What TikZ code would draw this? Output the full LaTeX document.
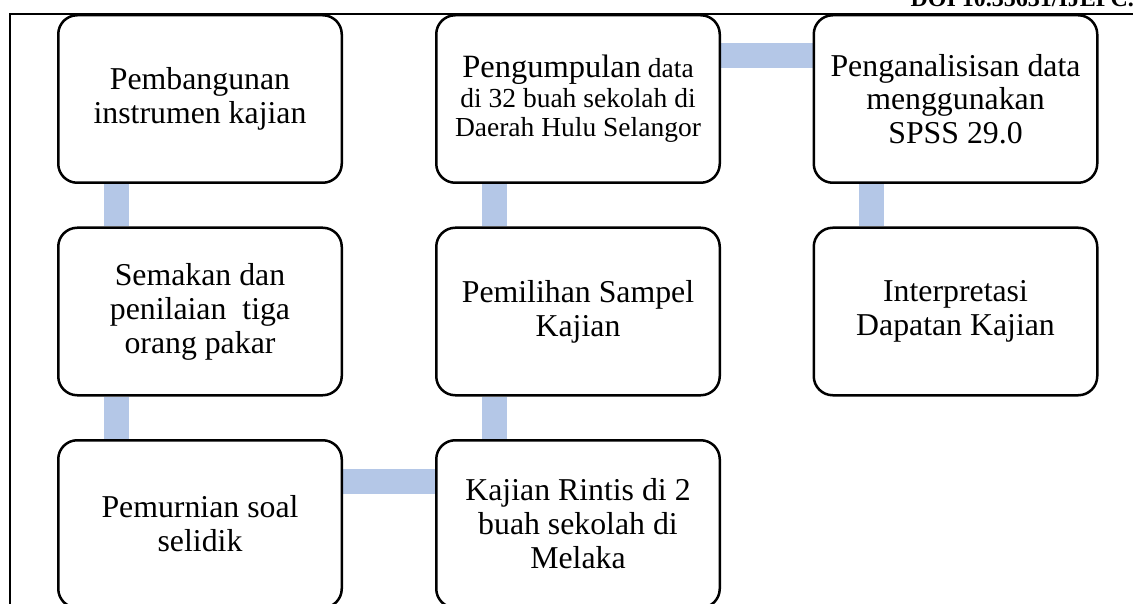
\documentclass[tikz,border=0pt]{standalone}
\usepackage{fontspec}
\setmainfont{Liberation Serif}
\usetikzlibrary{backgrounds}
\definecolor{connblue}{RGB}{180,199,231}
\tikzset{
  stepbox/.style={draw=black, line width=2.5pt, fill=white, rounded corners=19pt,
    minimum width=283.5pt, minimum height=167.5pt, inner sep=0pt, align=center,
    font=\fontsize{31.8}{34}\selectfont},
  conn/.style={draw=connblue, line width=25pt},
  frameline/.style={draw=black, line width=1.5pt}
}
\begin{document}
\begin{tikzpicture}[x=1pt,y=-1pt]
\useasboundingbox (0,0) rectangle (1133,604);
% page frame
\coordinate (fl) at (10,604);
\coordinate (fc) at (10,14);
\coordinate (fr) at (1133,14);
\draw[frameline] (fl) -- (fc) -- (fr);
\node[anchor=base west, font=\fontsize{24}{28}\selectfont\bfseries] (doi) at (907,7) {DOI 10.35631/IJEPC.};
% boxes
\node[stepbox] (b1) at (200,99) {Pembangunan\\instrumen kajian};
\node[stepbox] (b2) at (200,311.5) {Semakan dan\\penilaian\ \ tiga\\orang pakar};
\node[stepbox] (b3) at (200,524) {Pemurnian soal\\selidik};
\node[stepbox] (b4) at (578,524) {Kajian Rintis di 2\\buah sekolah di\\Melaka};
\node[stepbox] (b5) at (578,311.5) {Pemilihan Sampel\\Kajian};
\node[stepbox, font=\fontsize{27.5}{29.5}\selectfont] (b6) at (578,99) {{\fontsize{32.5}{29.5}\selectfont Pengumpulan} data\\di 32 buah sekolah di\\Daerah Hulu Selangor};
\node[stepbox, font=\fontsize{31.8}{33.5}\selectfont] (b7) at (955.5,99) {Penganalisisan data\\menggunakan\\SPSS 29.0};
\node[stepbox] (b8) at (955.5,311.5) {Interpretasi\\Dapatan Kajian};
% connectors
\begin{scope}[on background layer]
\draw[conn] ([xshift=-84pt]b1.south) -- ([xshift=-84pt]b2.north);
\draw[conn] ([xshift=-84pt]b2.south) -- ([xshift=-84pt]b3.north);
\draw[conn] ([yshift=42.5pt]b3.east) -- ([yshift=42.5pt]b4.west);
\draw[conn] ([xshift=-84pt]b4.north) -- ([xshift=-84pt]b5.south);
\draw[conn] ([xshift=-84pt]b5.north) -- ([xshift=-84pt]b6.south);
\draw[conn] ([yshift=43.5pt]b6.east) -- ([yshift=43.5pt]b7.west);
\draw[conn] ([xshift=-84pt]b7.south) -- ([xshift=-84pt]b8.north);
\end{scope}
\end{tikzpicture}
\end{document}
